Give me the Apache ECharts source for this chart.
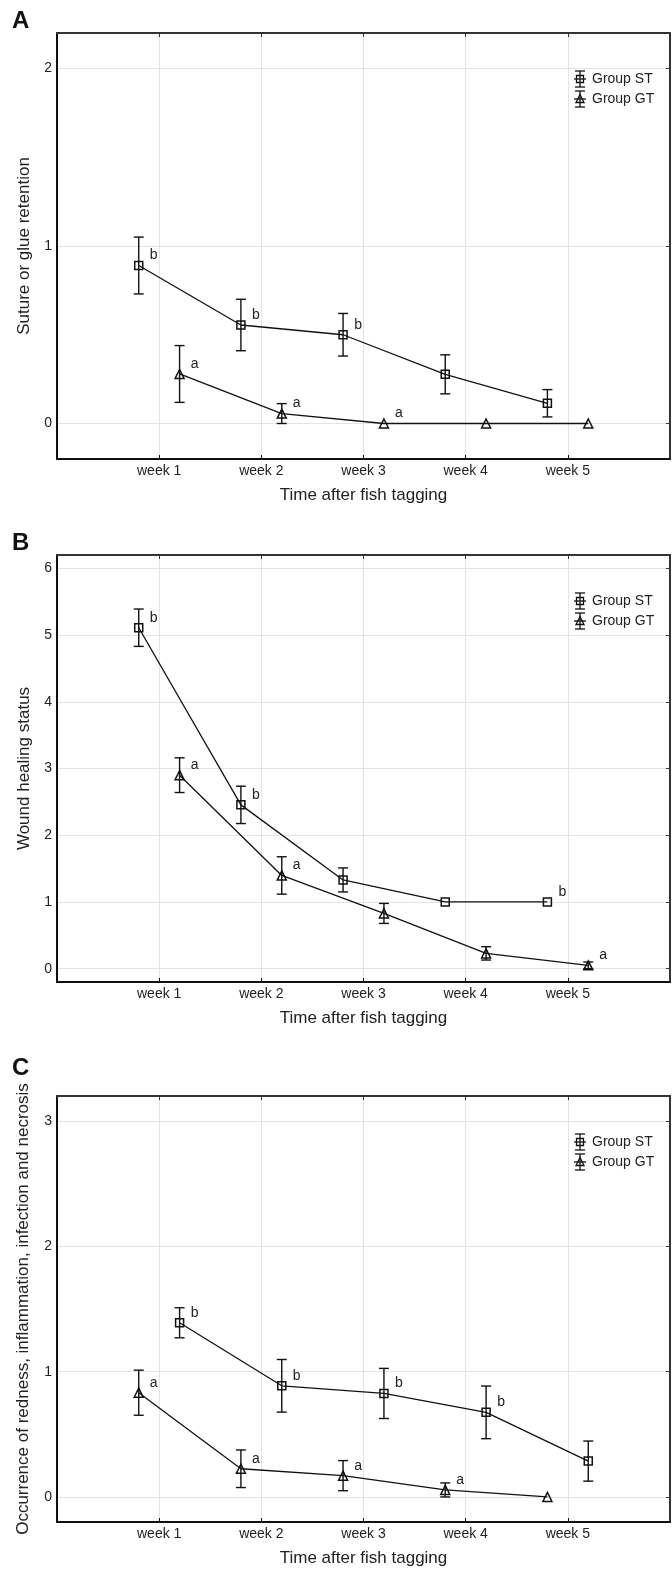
<!DOCTYPE html>
<html><head><meta charset="utf-8">
<script src="https://cdn.jsdelivr.net/npm/echarts@6/dist/echarts.min.js"></script>
<style>html,body{margin:0;padding:0;background:#fff}#c{width:672px;height:1570px}</style>
</head><body><div id="c"></div>
<script>
// ---------- data ----------
const weeks = ['week 1', 'week 2', 'week 3', 'week 4', 'week 5'];
const weekPos = [1, 2, 3, 4, 5];
const xTitle = 'Time after fish tagging';

// Panel A: suture or glue retention
const aST = [0.89, 0.555, 0.50, 0.277, 0.114];
const aSTerr = [0.16, 0.145, 0.12, 0.11, 0.077];
const aGT = [0.279, 0.056, 0, 0, 0];
const aGTerr = [0.16, 0.056, 0, 0, 0];
const aSTletters = ['b', 'b', 'b', '', ''];
const aGTletters = ['a', 'a', 'a', '', ''];
const aYTicks = [0, 1, 2];

// Panel B: wound healing status
const bST = [5.11, 2.455, 1.33, 1.0, 1.0];
const bSTerr = [0.28, 0.28, 0.18, 0, 0];
const bGT = [2.9, 1.397, 0.828, 0.229, 0.05];
const bGTerr = [0.26, 0.28, 0.15, 0.1, 0.05];
const bSTletters = ['b', 'b', '', '', 'b'];
const bGTletters = ['a', 'a', '', '', 'a'];
const bYTicks = [0, 1, 2, 3, 4, 5, 6];

// Panel C: occurrence of redness, inflammation, infection and necrosis
const cST = [1.39, 0.887, 0.826, 0.675, 0.286];
const cSTerr = [0.12, 0.21, 0.2, 0.21, 0.16];
const cGT = [0.832, 0.225, 0.17, 0.056, 0];
const cGTerr = [0.18, 0.15, 0.12, 0.056, 0];
const cSTletters = ['b', 'b', 'b', 'b', ''];
const cGTletters = ['a', 'a', 'a', 'a', ''];
const cYTicks = [0, 1, 2, 3];

// ---------- layout ----------
const FONT = 'Liberation Sans';
const INK = '#111';
const panels = [
  { tag: 'A', tagY: 21.5, grid: { left: 57, top: 33, width: 613, height: 426 }, yMin: -0.2, yMax: 2.2, yTicks: aYTicks,
    yName: 'Suture or glue retention', yNameGap: 24,
    st: { m: aST, e: aSTerr, l: aSTletters, off: -0.2 }, gt: { m: aGT, e: aGTerr, l: aGTletters, off: 0.2 } },
  { tag: 'B', tagY: 543.5, grid: { left: 57, top: 555, width: 613, height: 427 }, yMin: -0.2, yMax: 6.2, yTicks: bYTicks,
    yName: 'Wound healing status', yNameGap: 24,
    st: { m: bST, e: bSTerr, l: bSTletters, off: -0.2 }, gt: { m: bGT, e: bGTerr, l: bGTletters, off: 0.2 } },
  { tag: 'C', tagY: 1068.5, grid: { left: 57, top: 1096, width: 613, height: 426 }, yMin: -0.2, yMax: 3.2, yTicks: cYTicks,
    yName: 'Occurrence of redness, inflammation, infection and necrosis', yNameGap: 25,
    st: { m: cST, e: cSTerr, l: cSTletters, off: 0.2 }, gt: { m: cGT, e: cGTerr, l: cGTletters, off: -0.2 } }
];

const grids = [], xAxes = [], yAxes = [], series = [], graphics = [];
const grid_line = '#e4e4e4';

function errRender(params, api) {
  const x = api.value(0), m = api.value(1), e = api.value(2);
  if (!e) return null;
  const t = api.coord([x, m + e]), b = api.coord([x, m - e]);
  const st = { stroke: INK, lineWidth: 1.4 };
  return { type: 'group', children: [
    { type: 'line', shape: { x1: t[0], y1: t[1], x2: b[0], y2: b[1] }, style: st },
    { type: 'line', shape: { x1: t[0] - 5, y1: t[1], x2: t[0] + 5, y2: t[1] }, style: st },
    { type: 'line', shape: { x1: b[0] - 5, y1: b[1], x2: b[0] + 5, y2: b[1] }, style: st }
  ] };
}

panels.forEach((p, i) => {
  grids.push(Object.assign({ containLabel: false, show: false }, p.grid));
  const xb = xAxes.length;
  xAxes.push({
    type: 'value', gridIndex: i, position: 'bottom', min: 0, max: 6, interval: 1,
    name: xTitle, nameLocation: 'middle', nameGap: 28,
    nameTextStyle: { fontSize: 17, color: '#222', fontFamily: FONT },
    axisLine: { show: true, onZero: false, lineStyle: { color: INK, width: 2 } },
    axisTick: { show: true, inside: true, length: 4, customValues: weekPos, lineStyle: { color: INK } },
    axisLabel: { customValues: weekPos, formatter: v => weeks[Math.round(v) - 1] || '', fontSize: 14, color: '#222', margin: 5, fontFamily: FONT },
    splitLine: { show: true, lineStyle: { color: grid_line, width: 1 } }
  });
  xAxes.push({
    type: 'value', gridIndex: i, position: 'top', min: 0, max: 6, interval: 1,
    axisLine: { show: true, onZero: false, lineStyle: { color: '#333', width: 2 } },
    axisTick: { show: true, inside: true, length: 4, customValues: weekPos, lineStyle: { color: '#333' } },
    axisLabel: { show: false }, splitLine: { show: false }
  });
  const yl = yAxes.length;
  yAxes.push({
    type: 'value', gridIndex: i, position: 'left', min: p.yMin, max: p.yMax,
    name: p.yName, nameLocation: 'middle', nameGap: p.yNameGap,
    nameTextStyle: { fontSize: 17, color: '#222', fontFamily: FONT },
    axisLine: { show: true, onZero: false, lineStyle: { color: INK, width: 2 } },
    axisTick: { show: false, customValues: p.yTicks },
    axisLabel: { customValues: p.yTicks, fontSize: 14, color: '#222', margin: 5, fontFamily: FONT },
    splitLine: { show: true, lineStyle: { color: grid_line, width: 1 } }
  });
  yAxes.push({
    type: 'value', gridIndex: i, position: 'right', min: p.yMin, max: p.yMax,
    axisLine: { show: true, onZero: false, lineStyle: { color: '#333', width: 2 } },
    axisTick: { show: true, inside: true, length: 4, customValues: p.yTicks, lineStyle: { color: '#333' } },
    axisLabel: { show: false }, splitLine: { show: false }
  });

  [['st', 'rect', 8], ['gt', 'triangle', 9]].forEach(([k, sym, sz]) => {
    const g = p[k];
    series.push({
      type: 'custom', xAxisIndex: xb, yAxisIndex: yl, renderItem: errRender, z: 3, silent: true,
      data: weekPos.map((w, j) => [w + g.off, g.m[j], g.e[j]])
    });
    series.push({
      type: 'line', xAxisIndex: xb, yAxisIndex: yl, z: 4, silent: true,
      symbol: sym, symbolSize: sz, showAllSymbol: true,
      lineStyle: { color: INK, width: 1.3 },
      itemStyle: { color: 'rgba(255,255,255,0)', borderColor: INK, borderWidth: 1.5 },
      data: weekPos.map((w, j) => ({
        value: [w + g.off, g.m[j]],
        label: { show: !!g.l[j], formatter: g.l[j], position: 'inside', offset: [15, -10],
                 fontSize: 14, color: '#222', fontFamily: FONT }
      }))
    });
  });

  // panel tag
  graphics.push({ type: 'text', x: 12, y: p.tagY, style: { text: p.tag, font: 'bold 24px ' + FONT, fill: '#111', textVerticalAlign: 'middle' } });
  // legend
  const lx = 580, ly = p.grid.top + 46;
  const s = { stroke: INK, lineWidth: 1.3, fill: 'none' };
  [[0, 'Group ST', 'rect'], [20, 'Group GT', 'tri']].forEach(([dy, txt, m]) => {
    const y = ly + dy;
    graphics.push({ type: 'line', shape: { x1: lx, y1: y - 8, x2: lx, y2: y + 8 }, style: s });
    graphics.push({ type: 'line', shape: { x1: lx - 5, y1: y - 8, x2: lx + 5, y2: y - 8 }, style: s });
    graphics.push({ type: 'line', shape: { x1: lx - 5, y1: y + 8, x2: lx + 5, y2: y + 8 }, style: s });
    graphics.push({ type: 'line', shape: { x1: lx - 6, y1: y, x2: lx + 6, y2: y }, style: s });
    if (m === 'rect') graphics.push({ type: 'rect', shape: { x: lx - 3.5, y: y - 3.5, width: 7, height: 7 }, style: s });
    else graphics.push({ type: 'polygon', shape: { points: [[lx, y - 4.5], [lx + 4, y + 3.5], [lx - 4, y + 3.5]] }, style: s });
    graphics.push({ type: 'text', x: lx + 12, y: y, style: { text: txt, font: '14px ' + FONT, fill: '#222', textVerticalAlign: 'middle' } });
  });
});

const chart = echarts.init(document.getElementById('c'), null, { renderer: 'canvas' });
chart.setOption({
  animation: false,
  textStyle: { fontFamily: FONT },
  grid: grids, xAxis: xAxes, yAxis: yAxes, series: series, graphic: graphics
});
</script></body></html>
